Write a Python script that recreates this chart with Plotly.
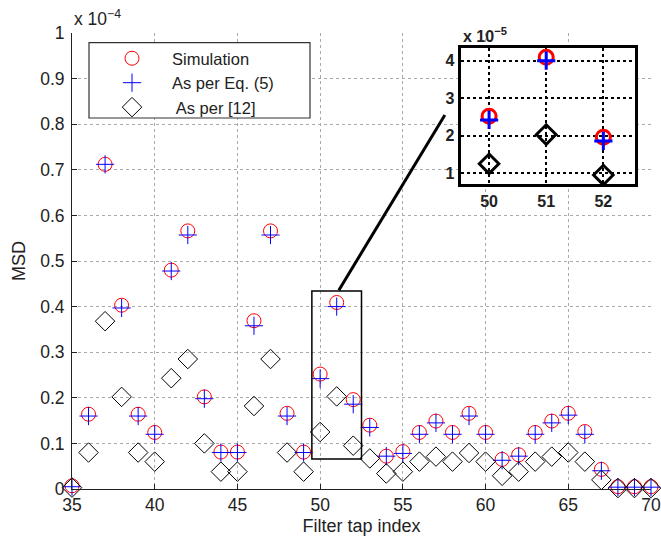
import plotly.graph_objects as go

taps = list(range(35, 71))
simulation = [0.007, 0.164, 0.712, 0.403, 0.164, 0.124, 0.480, 0.566, 0.202, 0.081,
              0.081, 0.369, 0.566, 0.166, 0.081, 0.252, 0.409, 0.196, 0.140, 0.072,
              0.082, 0.124, 0.149, 0.124, 0.166, 0.124, 0.065, 0.075, 0.124, 0.149,
              0.166, 0.126, 0.043, 0.005, 0.005, 0.005]
eq5 = [0.005, 0.160, 0.712, 0.397, 0.160, 0.120, 0.478, 0.557, 0.198, 0.080,
       0.080, 0.358, 0.557, 0.160, 0.080, 0.242, 0.400, 0.186, 0.135, 0.072,
       0.078, 0.120, 0.145, 0.120, 0.160, 0.120, 0.063, 0.072, 0.120, 0.145,
       0.162, 0.120, 0.040, 0.004, 0.004, 0.004]
ref12 = [0.003, 0.080, 0.368, 0.202, 0.080, 0.060, 0.243, 0.285, 0.100, 0.038,
         0.038, 0.182, 0.285, 0.080, 0.038, 0.125, 0.203, 0.095, 0.067, 0.034,
         0.038, 0.060, 0.071, 0.060, 0.079, 0.060, 0.029, 0.038, 0.060, 0.071,
         0.080, 0.060, 0.020, 0.002, 0.002, 0.002]

names = ["Simulation", "As per Eq. (5)", " As per [12]"]
xticks = [35, 40, 45, 50, 55, 60, 65, 70]
yticks = [0, 0.1, 0.2, 0.3, 0.4, 0.5, 0.6, 0.7, 0.8, 0.9, 1.0]
yticklabels = ["0", "0.1", "0.2", "0.3", "0.4", "0.5", "0.6", "0.7", "0.8", "0.9", "1"]

inset_taps = [50, 51, 52]
inset_yticks = [1, 2, 3, 4]

FONT = "Liberation Sans, Arial, Helvetica, sans-serif"

fig = go.Figure()
fig.add_trace(go.Scatter(x=taps, y=simulation, mode="markers", name=names[0],
                         marker=dict(symbol="circle-open", size=14, color="#ff0000",
                                     line=dict(width=1, color="#ff0000")),
                         cliponaxis=False))
fig.add_trace(go.Scatter(x=taps, y=eq5, mode="markers", name=names[1],
                         marker=dict(symbol="cross-thin-open", size=13, color="#0000ff",
                                     line=dict(width=1, color="#0000ff")),
                         cliponaxis=False))
fig.add_trace(go.Scatter(x=taps, y=ref12, mode="markers", name=names[2],
                         marker=dict(symbol="diamond-open", size=15, color="#000000",
                                     line=dict(width=1, color="#000000")),
                         cliponaxis=False))

idx = [taps.index(t) for t in inset_taps]
fig.add_trace(go.Scatter(x=inset_taps, y=[simulation[i] * 10 for i in idx], mode="markers",
                         xaxis="x2", yaxis="y2", showlegend=False,
                         marker=dict(symbol="circle-open", size=14, color="#ff0000",
                                     line=dict(width=3, color="#ff0000")),
                         cliponaxis=False))
fig.add_trace(go.Scatter(x=inset_taps, y=[eq5[i] * 10 for i in idx], mode="markers",
                         xaxis="x2", yaxis="y2", showlegend=False,
                         marker=dict(symbol="cross-thin-open", size=13, color="#0000ff",
                                     line=dict(width=3, color="#0000ff")),
                         cliponaxis=False))
fig.add_trace(go.Scatter(x=inset_taps, y=[ref12[i] * 10 for i in idx], mode="markers",
                         xaxis="x2", yaxis="y2", showlegend=False,
                         marker=dict(symbol="diamond-open", size=15, color="#000000",
                                     line=dict(width=3, color="#000000")),
                         cliponaxis=False))

grid = dict(showgrid=True, gridcolor="#aaaaaa", griddash="dot", gridwidth=1)

fig.update_layout(
    width=661, height=542,
    margin=dict(l=72, r=10, t=33, b=53),
    paper_bgcolor="white", plot_bgcolor="white",
    font=dict(family=FONT, size=17.5, color="#222"),
    xaxis=dict(range=[35, 70], tickvals=xticks, ticks="inside", ticklen=5,
               tickcolor="#222", showline=True, linecolor="#222", linewidth=1,
               zeroline=False, ticklabelstandoff=0, automargin=False,
               title=dict(text="Filter tap index", font=dict(size=18), standoff=5),
               **grid),
    yaxis=dict(range=[0, 1], tickvals=yticks, ticktext=yticklabels, ticks="inside",
               ticklen=5, tickcolor="#222", showline=True, linecolor="#222", linewidth=1,
               zeroline=False, ticklabelstandoff=3, automargin=False,
               title=dict(text="MSD", font=dict(size=18), standoff=9),
               **grid),
    xaxis2=dict(domain=[0.671, 0.972], anchor="y2", range=[49.5, 52.55],
                tickvals=inset_taps, ticks="", showline=True, mirror=True,
                linecolor="black", linewidth=3, zeroline=False, automargin=False,
                tickfont=dict(size=16, family=FONT, color="#222", weight="bold"),
                showgrid=True, gridcolor="black", griddash="dot", gridwidth=1.5),
    yaxis2=dict(domain=[0.668, 0.968], anchor="x2", range=[0.7, 4.35],
                tickvals=inset_yticks, ticks="", showline=True, mirror=True,
                linecolor="black", linewidth=3, zeroline=False, automargin=False,
                tickfont=dict(size=16, family=FONT, color="#222", weight="bold"),
                showgrid=True, gridcolor="black", griddash="dot", gridwidth=1.5),
    legend=dict(x=0.0294 + 3 / 579, y=1.0 - 8 / 456, xanchor="left", yanchor="top",
                bgcolor="rgba(0,0,0,0)", borderwidth=0, itemwidth=70,
                font=dict(size=16.5, family=FONT, color="#222"),
                tracegroupgap=0),
    showlegend=True,
)

# inset background
fig.add_shape(type="rect", xref="x2 domain", yref="y2 domain", x0=0, x1=1, y0=0, y1=1,
              fillcolor="#e6e6e6", line=dict(width=0), layer="below")
# legend box
fig.add_shape(type="rect", xref="paper", yref="paper",
              x0=(89 - 72) / 579, x1=(310 - 72) / 579,
              y0=(489 - 118) / 456, y1=(489 - 42.7) / 456,
              fillcolor="white", line=dict(width=1.2, color="#333"), layer="above")
# zoom rectangle and connector line
fig.add_shape(type="rect", xref="x", yref="y", x0=49.5, x1=52.5, y0=0.066, y1=0.434,
              line=dict(width=1.5, color="black"), layer="above")
fig.add_shape(type="line", xref="x", yref="y", x0=51.13, y0=0.436, x1=57.54, y1=0.82,
              line=dict(width=3, color="black"), layer="above")

fig.add_annotation(xref="paper", yref="paper", x=0.0, y=1.0, xanchor="left", yanchor="bottom",
                   yshift=2, text="x 10<sup>\u22124</sup>", showarrow=False,
                   font=dict(size=17.5, family=FONT, color="#222"))
fig.add_annotation(xref="x2 domain", yref="y2 domain", x=0.0, y=1.0, xanchor="left",
                   yanchor="bottom", yshift=1, text="<b>x 10<sup>\u22125</sup></b>",
                   showarrow=False, font=dict(size=16, family=FONT, color="#222"))

fig.write_html("out.html", config={"displayModeBar": False},
               post_script="document.body.style.margin='0';document.body.style.padding='0';")
